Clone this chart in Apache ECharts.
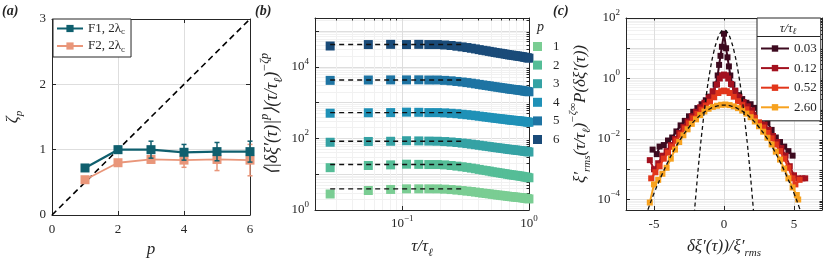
<!DOCTYPE html>
<html><head><meta charset="utf-8">
<script src="https://cdn.jsdelivr.net/npm/echarts@6/dist/echarts.min.js"></script>
<style>html,body{margin:0;padding:0;background:#fff}#c{width:830px;height:264px}</style>
</head><body><div id="c"></div>
<script>
// ---------- panel (a) data ----------
const pValues = [1, 2, 3, 4, 5, 6];
const zetaF1 = [0.72, 1.00, 1.00, 0.96, 0.97, 0.97];
const errF1  = [0.02, 0.05, 0.13, 0.12, 0.14, 0.16];
const zetaF2 = [0.54, 0.80, 0.85, 0.84, 0.85, 0.84];
const errF2  = [0.02, 0.03, 0.05, 0.11, 0.17, 0.24];
const k41X = [0, 6];
const k41Y = [0, 3];
const legendA = ['F1, 2λc', 'F2, 2λc'];

// ---------- panel (b) data ----------
const tauB = [0.027,0.054,0.081,0.108,0.135,0.162,0.189,0.216,0.243,0.27,0.297,0.324,0.351,0.378,0.405,0.432,0.459,0.486,0.513,0.54,0.567,0.594,0.621,0.648,0.675,0.702,0.729,0.756,0.783,0.81,0.837,0.864,0.891,0.918,0.945,0.972,0.999];
const sfP1 = [2.8,3.5,3.75,3.9,3.9,3.9,3.89,3.82,3.72,3.60,3.48,3.37,3.27,3.16,3.06,2.96,2.89,2.82,2.75,2.68,2.62,2.58,2.52,2.48,2.43,2.38,2.35,2.32,2.29,2.26,2.23,2.21,2.18,2.14,2.11,2.08,2.04];
const sfP2 = [15.2,17.5,18.2,19.0,18.8,18.6,18.6,18.2,17.5,16.8,16.1,15.5,14.8,14.2,13.6,13.0,12.6,12.2,11.7,11.4,11.1,10.8,10.5,10.3,10.0,9.75,9.58,9.42,9.27,9.10,8.95,8.79,8.65,8.43,8.30,8.15,7.94];
const sfP3 = [78,82,83,86,85,84,83.2,81.5,79.3,76.6,74.0,71.4,69.0,66.7,64.4,62.2,60.5,58.9,57.3,55.7,54.6,53.5,52.4,51.3,50.2,49.2,48.5,47.9,47.2,46.6,45.9,45.3,44.7,43.8,43.2,42.6,41.7];
const sfP4 = [505,520,525,540,535,525,525,515,502,488,472,458,444,431,417,405,394,385,375,366,359,352,346,340,333,327,323,319,315,311,308,303,300,294,291,287,282];
const sfP5 = [4170,4270,4300,4300,4320,4270,4270,4170,4050,3890,3750,3610,3480,3340,3220,3100,3010,2920,2830,2750,2690,2620,2560,2510,2450,2390,2360,2320,2290,2250,2220,2190,2150,2100,2080,2040,2000];
const sfP6 = [38000,41700,42200,41700,42200,41700,41700,40600,39200,37500,35900,34400,32900,31500,30100,28800,27900,26900,26000,25100,24400,23800,23200,22600,22000,21400,21100,20700,20300,20000,19600,19300,19000,18500,18200,17800,17400];
const plateauB = [3.89, 18.6, 83.2, 525, 4270, 41700];
const fitRangeB = [0.027, 0.3];
const pNames = ['1', '2', '3', '4', '5', '6'];

// ---------- panel (c) data ----------
const xC003 = [-5.1,-4.8,-4.6,-4.3,-4.0,-3.7,-3.4,-3.1,-2.8,-2.5,-2.2,-1.9,-1.6,-1.3,-1.0,-0.8,-0.6,-0.45,-0.35,-0.25,-0.15,0,0.15,0.25,0.35,0.45,0.6,0.8,1.0,1.3,1.6,1.9,2.2,2.5,2.8,3.1,3.4,3.7,4.0,4.3,4.6,4.9];
const yC003 = [4.47e-3,3.16e-3,5.62e-3,6.31e-3,8.91e-3,0.0112,0.0178,0.0282,0.0398,0.0562,0.0794,0.105,0.141,0.191,0.251,0.355,0.631,1.26,2.82,5.62,11.2,30.2,10.0,5.01,2.51,1.26,0.631,0.38,0.282,0.209,0.158,0.141,0.107,0.0794,0.0562,0.0355,0.020,0.0112,7.94e-3,5.62e-3,3.98e-3,2.82e-3];
const xC012 = [-5.3,-5.0,-4.7,-4.4,-4.1,-3.8,-3.5,-3.2,-2.9,-2.6,-2.3,-2.0,-1.7,-1.4,-1.1,-0.8,-0.5,-0.3,-0.15,0,0.15,0.3,0.5,0.8,1.1,1.4,1.7,2.0,2.3,2.6,2.9,3.2,3.5,3.8,4.1,4.4,4.7,5.0,5.3,5.6,5.8];
const yC012 = [2.0e-3,1.0e-3,1.58e-3,2.82e-3,3.98e-3,6.31e-3,0.010,0.0158,0.0251,0.038,0.0562,0.0794,0.112,0.158,0.24,0.38,0.631,1.0,1.26,1.35,1.26,1.0,0.661,0.398,0.251,0.166,0.12,0.0891,0.0631,0.0447,0.0302,0.020,0.0126,7.94e-3,5.01e-3,2.82e-3,1.26e-3,6.31e-4,5.01e-4,5.01e-4,5.01e-4];
const xC052 = [-5.2,-4.9,-4.6,-4.3,-4.0,-3.7,-3.4,-3.1,-2.8,-2.5,-2.2,-1.9,-1.6,-1.3,-1.0,-0.7,-0.4,-0.2,0,0.2,0.4,0.7,1.0,1.3,1.6,1.9,2.2,2.5,2.8,3.1,3.4,3.7,4.0,4.3,4.6,4.9,5.1,5.4];
const yC052 = [5.01e-4,7.94e-4,1.26e-3,2.24e-3,3.55e-3,5.62e-3,8.91e-3,0.0141,0.0224,0.0331,0.0479,0.0676,0.0933,0.126,0.17,0.24,0.331,0.38,0.398,0.38,0.331,0.251,0.178,0.132,0.0955,0.0692,0.0501,0.0355,0.024,0.0158,0.0105,6.61e-3,3.98e-3,2.24e-3,1.12e-3,5.01e-4,3.16e-4,4.47e-4];
const xC260 = [-5.3,-5.0,-4.7,-4.4,-4.1,-3.8,-3.5,-3.2,-2.9,-2.6,-2.3,-2.0,-1.7,-1.4,-1.1,-0.8,-0.5,-0.2,0.1,0.4,0.7,1.0,1.3,1.6,1.9,2.2,2.5,2.8,3.1,3.4,3.7,4.0,4.3,4.6,4.9,5.2,5.3];
const yC260 = [7.94e-5,3.16e-4,4.47e-4,7.08e-4,1.12e-3,2.24e-3,4.47e-3,7.94e-3,0.0132,0.0209,0.0316,0.0447,0.0617,0.0813,0.10,0.115,0.126,0.135,0.138,0.132,0.12,0.105,0.0871,0.0692,0.0525,0.038,0.0263,0.0174,0.011,6.61e-3,3.8e-3,2.09e-3,1.05e-3,5.01e-4,2.51e-4,1.41e-4,1.0e-4];
const xNarrow = [-2.2,-2,-1.75,-1.5,-1.25,-1,-0.75,-0.5,-0.25,0,0.25,0.5,0.75,1,1.25,1.5,1.75,2,2.2];
const yNarrow = [1.2e-5,1.6e-4,2.9e-3,0.035,0.31,1.78,6.9,18,33,40,33,18,6.9,1.78,0.31,0.035,2.9e-3,1.6e-4,1.2e-5];
const xWide = [-5.6,-5.4,-5,-4.5,-4,-3.5,-3,-2.5,-2,-1.5,-1,-0.5,0,0.5,1,1.5,2,2.5,3,3.5,4,4.5,5,5.4,5.6];
const yWide = [2.8e-5,5.1e-5,1.6e-4,5.6e-4,1.78e-3,4.9e-3,0.0118,0.0245,0.045,0.072,0.10,0.123,0.132,0.123,0.10,0.072,0.045,0.0245,0.0118,4.9e-3,1.78e-3,5.6e-4,1.6e-4,5.1e-5,2.8e-5];
const tauNames = ['0.03', '0.12', '0.52', '2.60'];

// ---------- tick values ----------
const ticksBXMajor = [0.1, 1];
const ticksBYMajor = [1, 10, 100, 1000, 10000, 100000];
const labelsBY = [1, 100, 10000];
const ticksCX = [-5, 0, 5];
const ticksCYMajor = [1e-4, 1e-3, 1e-2, 1e-1, 1, 10, 100];
const labelsCY = [1e-4, 1e-2, 1, 100];
function minorTicks(kFrom, kTo, lo, hi) {
  const out = [];
  for (let k = kFrom; k <= kTo; k++) for (let m = 2; m <= 9; m++) {
    const v = Number((m * Math.pow(10, k)).toPrecision(3));
    if (v > lo && v < hi) out.push(v);
  }
  return out;
}
const ticksBXMinor = minorTicks(-2, -1, 0.0205, 1);
const ticksBYMinor = minorTicks(0, 5, 1, 2.3e5);
const ticksCYMinor = minorTicks(-5, 1, 4.5e-5, 100);

// ---------- styles ----------
const F = 'Liberation Serif';
const INK = '#262626';
const colF1 = '#0f5f6e', colF2 = '#e9967a';
const colP = ['#7acd93', '#55bd97', '#35a2a4', '#1f91b7', '#1e74a3', '#1a4b79'];
const colTau = ['#3d0a1f', '#a3111f', '#e2361b', '#f7a21f'];
const rich = {
  b: {fontFamily: F, fontSize: 13, color: INK, lineHeight: 20},
  s: {fontFamily: F, fontSize: 9, color: INK, lineHeight: 8, verticalAlign: 'top'}
};
function powLabel(v) {
  const e = Math.round(Math.log10(v));
  return '{b|10}{s|' + (e < 0 ? '−' + (-e) : e) + '}';
}
const lineAx = {show: true, onZero: false, lineStyle: {color: INK, width: 1}};
const gridMajor = {show: true, lineStyle: {color: '#dedede', width: 1}};
const gridMinor = {show: true, lineStyle: {color: '#f1f1f1', width: 1}};
const nameStyle = (sz, ss) => ({
  fontFamily: F, fontSize: sz, fontStyle: 'italic', color: INK,
  rich: {
    n: {fontFamily: F, fontSize: sz, fontStyle: 'italic', color: INK, lineHeight: sz + 8},
    r: {fontFamily: F, fontSize: sz, color: INK, lineHeight: sz + 8},
    sup: {fontFamily: F, fontSize: ss, fontStyle: 'italic', color: INK, lineHeight: ss, verticalAlign: 'top'},
    sub: {fontFamily: F, fontSize: ss, fontStyle: 'italic', color: INK, lineHeight: ss + 4, verticalAlign: 'bottom'},
    subr: {fontFamily: F, fontSize: ss, color: INK, lineHeight: ss + 4, verticalAlign: 'bottom'}
  }
});
function mirror(base, pos, ticks, minorGrid) {
  return Object.assign({}, base, {
    position: pos, name: '', axisLabel: {show: false},
    axisLine: lineAx,
    axisTick: ticks ? {show: true, inside: true, length: 2.5, customValues: ticks, lineStyle: {color: INK}} : {show: true, inside: true, length: 4, lineStyle: {color: INK}},
    splitLine: minorGrid ? gridMinor : {show: false}
  });
}

// ---------- axes ----------
const xA = {gridIndex: 0, type: 'value', min: 0, max: 6, interval: 2};
const yA = {gridIndex: 0, type: 'value', min: 0, max: 3, interval: 1};
const xB = {gridIndex: 1, type: 'log', min: 0.0205, max: 1};
const yB = {gridIndex: 1, type: 'log', min: 1, max: 2.3e5};
const xC = {gridIndex: 2, type: 'value', min: -7, max: 7};
const yC = {gridIndex: 2, type: 'log', min: 4.5e-5, max: 100};

const xAxis = [
  Object.assign({}, xA, {position: 'bottom', axisLine: lineAx,
    axisTick: {inside: true, length: 4, lineStyle: {color: INK}},
    axisLabel: {fontFamily: F, fontSize: 13, color: INK, margin: 8},
    splitLine: gridMajor,
    name: 'p', nameLocation: 'middle', nameGap: 23, nameTextStyle: nameStyle(17, 11)}),
  mirror(xA, 'top', null, false),
  Object.assign({}, xB, {position: 'bottom', axisLine: lineAx,
    axisTick: {inside: true, length: 4, customValues: ticksBXMajor, lineStyle: {color: INK}},
    axisLabel: {customValues: ticksBXMajor, formatter: powLabel, rich: rich, margin: 4},
    splitLine: gridMajor,
    name: '{n|τ/τ}{sub|ℓ}', nameLocation: 'middle', nameGap: 24, nameTextStyle: nameStyle(17, 11)}),
  mirror(xB, 'top', ticksBXMinor, true),
  Object.assign({}, xC, {position: 'bottom', axisLine: lineAx,
    axisTick: {inside: true, length: 4, customValues: ticksCX, lineStyle: {color: INK}},
    axisLabel: {customValues: ticksCX, fontFamily: F, fontSize: 13, color: INK, margin: 8,
      formatter: v => (v < 0 ? '-' + (-v) : String(v))},
    splitLine: gridMajor,
    name: '{n|δξ′(τ))/ξ′}{subr|rms}', nameLocation: 'middle', nameGap: 24, nameTextStyle: nameStyle(17, 11)}),
  mirror(xC, 'top', ticksCX, false)
];
const yAxis = [
  Object.assign({}, yA, {position: 'left', axisLine: lineAx,
    axisTick: {inside: true, length: 4, lineStyle: {color: INK}},
    axisLabel: {fontFamily: F, fontSize: 13, color: INK, margin: 6},
    splitLine: gridMajor,
    name: '{n|ζ}{sub|p}', nameLocation: 'middle', nameGap: 27, nameTextStyle: nameStyle(17, 11)}),
  mirror(yA, 'right', null, false),
  Object.assign({}, yB, {position: 'left', axisLine: lineAx,
    axisTick: {inside: true, length: 4, customValues: ticksBYMajor, lineStyle: {color: INK}},
    axisLabel: {customValues: labelsBY, formatter: powLabel, rich: rich, margin: 6},
    splitLine: gridMajor,
    name: '{r|⟨|}{n|δξ′}{r|(}{n|τ}{r|)|}{sup|p}{r|⟩(}{n|τ/τ}{sub|ℓ}{r|)}{sup|−ζp}',
    nameLocation: 'middle', nameGap: 30, nameTextStyle: nameStyle(18, 12)}),
  mirror(yB, 'right', ticksBYMinor, true),
  Object.assign({}, yC, {position: 'left', axisLine: lineAx,
    axisTick: {inside: true, length: 4, customValues: ticksCYMajor, lineStyle: {color: INK}},
    axisLabel: {customValues: labelsCY, formatter: powLabel, rich: rich, margin: 6},
    splitLine: gridMajor,
    name: '{n|ξ′}{subr|rms}{r|(}{n|τ/τ}{sub|ℓ}{r|)}{sup|−ζ∞}{n|P}{r|(}{n|δξ′}{r|(}{n|τ}{r|))}',
    nameLocation: 'middle', nameGap: 33, nameTextStyle: nameStyle(17, 11)}),
  mirror(yC, 'right', ticksCYMinor, true)
];

// ---------- series ----------
function errBars(color) {
  return function (params, api) {
    const x = api.value(0), y = api.value(1), e = api.value(2);
    const t = api.coord([x, y + e]), b = api.coord([x, y - e]);
    const w = 2.5, st = {stroke: color, lineWidth: 1.5};
    return {type: 'group', children: [
      {type: 'line', shape: {x1: t[0], y1: t[1], x2: b[0], y2: b[1]}, style: st},
      {type: 'line', shape: {x1: t[0] - w, y1: t[1], x2: t[0] + w, y2: t[1]}, style: st},
      {type: 'line', shape: {x1: b[0] - w, y1: b[1], x2: b[0] + w, y2: b[1]}, style: st}
    ]};
  };
}
const series = [];
series.push({name: 'K41', type: 'line', xAxisIndex: 0, yAxisIndex: 0, data: k41X.map((x, i) => [x, k41Y[i]]),
  symbol: 'none', lineStyle: {color: '#000', width: 1.6, type: [6, 4]}, silent: true, z: 1});
series.push({name: 'F2err', type: 'custom', xAxisIndex: 0, yAxisIndex: 0, renderItem: errBars(colF2),
  data: pValues.map((p, i) => [p, zetaF2[i], errF2[i]]), encode: {x: 0, y: 1}, z: 2});
series.push({name: legendA[1], type: 'line', xAxisIndex: 0, yAxisIndex: 0, data: pValues.map((p, i) => [p, zetaF2[i]]),
  symbol: 'rect', symbolSize: 9, showAllSymbol: true, itemStyle: {color: colF2}, lineStyle: {color: colF2, width: 1.8}, z: 3});
series.push({name: 'F1err', type: 'custom', xAxisIndex: 0, yAxisIndex: 0, renderItem: errBars(colF1),
  data: pValues.map((p, i) => [p, zetaF1[i], errF1[i]]), encode: {x: 0, y: 1}, z: 4});
series.push({name: legendA[0], type: 'line', xAxisIndex: 0, yAxisIndex: 0, data: pValues.map((p, i) => [p, zetaF1[i]]),
  symbol: 'rect', symbolSize: 9, showAllSymbol: true, itemStyle: {color: colF1}, lineStyle: {color: colF1, width: 2.2}, z: 5});

const sfAll = [sfP1, sfP2, sfP3, sfP4, sfP5, sfP6];
sfAll.forEach((arr, k) => {
  series.push({name: pNames[k], type: 'scatter', xAxisIndex: 2, yAxisIndex: 2,
    data: tauB.map((t, i) => [t, arr[i]]), symbol: 'rect', symbolSize: 9,
    itemStyle: {color: colP[k], opacity: 1}, z: 2});
});
plateauB.forEach((v, k) => {
  series.push({name: 'fit' + pNames[k], type: 'line', xAxisIndex: 2, yAxisIndex: 2,
    data: fitRangeB.map(t => [t, v]), symbol: 'none', silent: true,
    lineStyle: {color: '#111', width: 1.4, type: [5, 4]}, z: 3});
});

const xCAll = [xC003, xC012, xC052, xC260], yCAll = [yC003, yC012, yC052, yC260];
xCAll.forEach((xs, k) => {
  series.push({name: tauNames[k], type: 'line', xAxisIndex: 4, yAxisIndex: 4,
    data: xs.map((x, i) => [x, yCAll[k][i]]), symbol: 'rect', symbolSize: 6, showAllSymbol: true,
    itemStyle: {color: colTau[k]}, lineStyle: {color: colTau[k], width: 2}, z: 2 + k});
});
[[xNarrow, yNarrow], [xWide, yWide]].forEach((pair, k) => {
  series.push({name: 'gauss' + k, type: 'line', xAxisIndex: 4, yAxisIndex: 4,
    data: pair[0].map((x, i) => [x, pair[1][i]]), symbol: 'none', smooth: true, silent: true,
    lineStyle: {color: '#111', width: 1.3, type: [4, 3]}, z: 8});
});

// ---------- legends ----------
const legTxt = {fontFamily: F, fontSize: 13, color: INK,
  rich: {t: {fontFamily: F, fontSize: 13, color: INK, lineHeight: 16},
         sub: {fontFamily: F, fontSize: 9, color: INK, lineHeight: 12, verticalAlign: 'bottom'}}};
const legend = [
  {data: legendA, orient: 'vertical', left: 53, top: 19, itemWidth: 26, itemHeight: 9, itemGap: 3,
   padding: [3, 6, 3, 3], borderColor: INK, borderWidth: 1, borderRadius: 0, backgroundColor: '#fff',
   selectedMode: false, textStyle: legTxt,
   formatter: n => '{t|' + n.slice(0, -1) + '}{sub|c}'},
  {data: pNames, orient: 'vertical', left: 533, top: 40, icon: 'rect', itemWidth: 9, itemHeight: 9, itemGap: 5.6,
   padding: 0, selectedMode: false,
   textStyle: {fontFamily: F, fontSize: 13, color: INK, padding: [0, 0, 0, 6]}},
  {data: tauNames, orient: 'vertical', left: 757, top: 18, itemWidth: 28, itemHeight: 8, itemGap: 6.6,
   padding: [24, 4, 7, 3], borderColor: INK, borderWidth: 1, borderRadius: 0, backgroundColor: '#fff',
   selectedMode: false, textStyle: {fontFamily: F, fontSize: 13, color: INK}}
];

const txt = (x, y, t, extra) => ({type: 'text', x: x, y: y, z: 100,
  style: Object.assign({text: t, fontFamily: F, fontSize: 14, fill: INK}, extra || {})});
const graphic = [
  txt(2, 4, '(a)', {fontWeight: 'bold', fontStyle: 'italic'}),
  txt(255, 4, '(b)', {fontWeight: 'bold', fontStyle: 'italic'}),
  txt(553, 4, '(c)', {fontWeight: 'bold', fontStyle: 'italic'}),
  txt(537, 20, 'p', {fontStyle: 'italic', fontSize: 14}),
  {type: 'text', x: 788, y: 22, z: 100, style: {text: '{n|τ/τ}{s|ℓ}', align: 'center', fill: INK,
    rich: {n: {fontFamily: F, fontSize: 13, fontStyle: 'italic', fill: INK, lineHeight: 14},
           s: {fontFamily: F, fontSize: 9, fontStyle: 'italic', fill: INK, lineHeight: 10, verticalAlign: 'bottom'}}}},
  {type: 'line', z: 100, shape: {x1: 757, y1: 36.5, x2: 820, y2: 36.5}, style: {stroke: INK, lineWidth: 1}}
];

const chart = echarts.init(document.getElementById('c'));
chart.setOption({
  animation: false,
  backgroundColor: '#fff',
  grid: [
    {left: 52, top: 19, width: 198, height: 196},
    {left: 315, top: 18, width: 214, height: 197},
    {left: 626, top: 18, width: 196, height: 197}
  ],
  xAxis: xAxis, yAxis: yAxis, series: series, legend: legend, graphic: graphic,
  tooltip: {show: false}
});
</script></body></html>
